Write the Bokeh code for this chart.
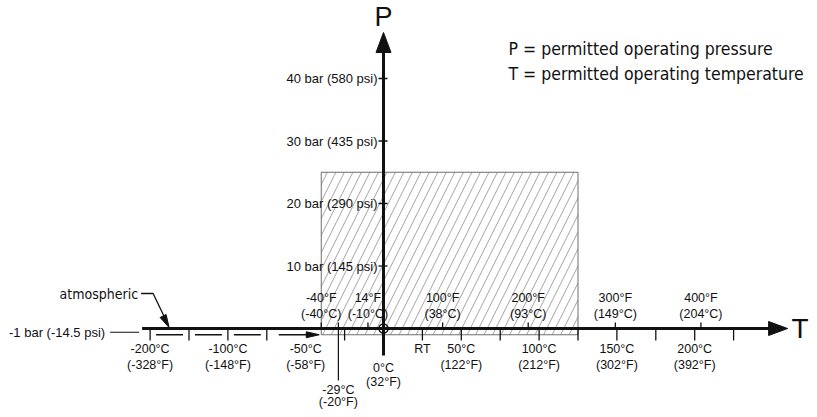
from bokeh.plotting import figure
from bokeh.models import Range1d
from bokeh.core.properties import value
from bokeh.embed import file_html
from bokeh.resources import INLINE

# ---------------- data ----------------
p_bar = [10, 20, 30, 40]
p_psi = [145, 290, 435, 580]
c_ticks = [-200, -150, -100, -75, -25, 0, 25, 50, 75, 100, 125, 150, 175, 200, 225]
c_lab = [-200, -100, -50, 50, 100, 150, 200]
c_lab_f = [-328, -148, -58, 122, 212, 302, 392]
f_lab = [-40, 14, 100, 200, 300, 400]
f_lab_c = [-40, -10, 38, 93, 149, 204]
zero_c, zero_f = 0, 32
low_c, low_f = -29, -20
rt_c = 25
t_range = [-40, 125]     # permitted temperature, degC
p_range = [-1, 25]       # permitted pressure, bar
vac_bar, vac_psi = -1, -14.5
atm_bar = 0

# ---------------- scales ----------------
SX = 1.556   # px per degC
SY = 6.25    # px per bar
def dx(px): return px / SX
def dy(px): return px / SY
def tpos(c):  # axis with scale break below -100 degC
    return c if c >= -100 else -100 + (c + 100) * 0.5

W, H = 809, 409
OX, OY = 383, 328   # origin position in canvas px
p = figure(width=W, height=H, output_backend="svg", toolbar_location=None,
           x_range=Range1d(-OX / SX, (W - OX) / SX),
           y_range=Range1d(-(H - OY) / SY, OY / SY),
           min_border=0, x_axis_location=None, y_axis_location=None,
           outline_line_color=None, background_fill_color="white")
p.grid.visible = False

FONT = value("Liberation Sans")
CFONT = value("DejaVu Sans Condensed")
BLACK = "#111111"

def head(xt, yt, direction, length, width):
    # arrowhead polygon from pixel dims
    if direction == "right":
        xs = [xt, xt - dx(length), xt - dx(length)]
        ys = [yt, yt + dy(width / 2), yt - dy(width / 2)]
    else:  # up
        xs = [xt, xt - dx(width / 2), xt + dx(width / 2)]
        ys = [yt, yt - dy(length), yt - dy(length)]
    p.patch(xs, ys, fill_color=BLACK, line_color=BLACK, line_width=1)

# permitted area
p.quad(left=[tpos(t_range[0])], right=[tpos(t_range[1])],
       bottom=[p_range[0]], top=[p_range[1]],
       fill_alpha=0, hatch_pattern="/", hatch_color="#8c8c8c", hatch_scale=17,
       hatch_weight=0.8, line_color="#6e6e6e", line_width=1)

# vacuum (-1 bar) dashed line between ticks, with arrow into region
vt = [tpos(c) for c in c_ticks if c <= -75]
for a, b in zip(vt[:-1], vt[1:]):
    p.segment(a + dx(6), vac_bar, b - dx(6), vac_bar, line_color=BLACK, line_width=1.5)
x_arrow_start = vt[-1] + dx(12)
x_arrow_end = tpos(t_range[0]) - dx(2)
p.segment(x_arrow_start, vac_bar, x_arrow_end - dx(8), vac_bar, line_color=BLACK, line_width=1.5)
head(x_arrow_end, vac_bar, "right", 13, 6)
# leader for -1 bar label
x_left = tpos(c_ticks[0])
p.segment(x_left - dx(40), vac_bar + dy(2.5), x_left - dx(11), vac_bar + dy(2.5),
          line_color=BLACK, line_width=1.2)
p.text(x=[x_left - dx(45)], y=[vac_bar + dy(2.5)], text=[f"-1 bar ({vac_psi} psi)"],
       text_font=FONT, text_font_size="13px", text_align="right",
       text_baseline="middle", text_color=BLACK)

# T axis
t_tip = tpos(c_ticks[-1]) + dx(54)
p.segment(x_left - dx(8), 0, t_tip - dx(15), 0, line_color=BLACK, line_width=3)
head(t_tip, 0, "right", 19, 14)
p.text(x=[t_tip + dx(4)], y=[0], text=["T"], text_font=FONT, text_font_size="28px",
       text_align="left", text_baseline="middle", text_color=BLACK)

# P axis
p_tip = p_bar[-1] + dy(46)
p.segment(0, -dy(27), 0, p_tip - dy(15), line_color=BLACK, line_width=3)
head(0, p_tip, "up", 20, 15)
p.text(x=[0], y=[p_tip + dy(1)], text=["P"], text_font=FONT, text_font_size="27px",
       text_align="center", text_baseline="bottom", text_color=BLACK)

# ticks below T axis (degC)
bt = [tpos(c) for c in c_ticks]
p.segment(bt, [0] * len(bt), bt, [-dy(12)] * len(bt), line_color=BLACK, line_width=1.3)
# ticks above T axis (degF)
ft = [tpos(c) for c in f_lab_c]
p.segment(ft, [0] * len(ft), ft, [dy(6)] * len(ft), line_color=BLACK, line_width=1.3)
# P ticks
p.segment([-dx(5)] * 4, p_bar, [dx(4)] * 4, p_bar, line_color=BLACK, line_width=1.3)

# origin marker
p.scatter([0], [0], size=9, marker="circle", fill_color=None, line_color=BLACK, line_width=1.5)

# -29 degC line
p.segment(tpos(low_c), dy(6), tpos(low_c), -dy(52), line_color=BLACK, line_width=1.2)

# labels
lab_kw = dict(text_font=FONT, text_font_size="12.5px", text_align="center",
              text_baseline="middle", text_color=BLACK)
cx = [tpos(c) for c in c_lab]
p.text(x=cx, y=[0] * len(cx), text=[f"{c}°C" for c in c_lab], y_offset=20, **lab_kw)
p.text(x=cx, y=[0] * len(cx), text=[f"({f}°F)" for f in c_lab_f], y_offset=36, **lab_kw)
p.text(x=[tpos(zero_c)], y=[0], text=[f"{zero_c}°C"], y_offset=39, **lab_kw)
p.text(x=[tpos(zero_c)], y=[0], text=[f"({zero_f}°F)"], y_offset=53, **lab_kw)
p.text(x=[tpos(low_c)], y=[0], text=[f"{low_c}°C"], y_offset=61, **lab_kw)
p.text(x=[tpos(low_c)], y=[0], text=[f"({low_f}°F)"], y_offset=73, **lab_kw)
p.text(x=[tpos(rt_c)], y=[0], text=["RT"], y_offset=20, **lab_kw)
fx = [tpos(c) for c in f_lab_c]
p.text(x=fx, y=[0] * len(fx), text=[f"{f}°F" for f in f_lab], y_offset=-31, **lab_kw)
p.text(x=fx, y=[0] * len(fx), text=[f"({c}°C)" for c in f_lab_c], y_offset=-15, **lab_kw)

# P labels
p.text(x=[-dx(6)] * 4, y=p_bar, text=[f"{b} bar ({s} psi)" for b, s in zip(p_bar, p_psi)],
       text_font=FONT, text_font_size="13px", text_align="right",
       text_baseline="middle", text_color=BLACK)

# atmospheric label with leader arrow
ax0 = x_left - dx(9)
ay0 = atm_bar + dy(35)
p.text(x=[ax0 - dx(3)], y=[ay0], text=["atmospheric"], text_font=CFONT,
       text_font_size="14px", text_align="right", text_baseline="middle", text_color=BLACK)
p.line([ax0, ax0 + dx(12), x_left + dx(16)], [ay0, ay0, atm_bar + dy(8)],
       line_color=BLACK, line_width=1.3)
tipx, tipy = x_left + dx(19), atm_bar + dy(1)
p.patch([tipx, tipx - dx(9), tipx - dx(3)], [tipy, tipy + dy(10), tipy + dy(13)],
        fill_color=BLACK, line_color=BLACK)

# legend text
for txt, yy in [("P = permitted operating pressure", 280), ("T = permitted operating temperature", 255)]:
    p.text(x=[dx(125)], y=[dy(yy)], text=[txt], text_font=CFONT, text_font_size="17.5px",
           text_align="left", text_baseline="middle", text_color=BLACK)

open("out.html", "w").write(file_html(p, INLINE))
